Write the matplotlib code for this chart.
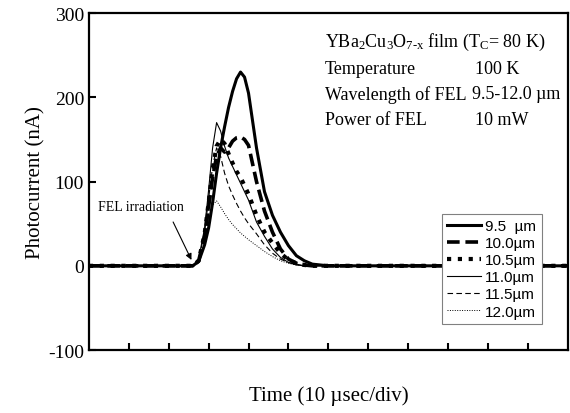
import numpy as np
import matplotlib
matplotlib.use("Agg")
import matplotlib.pyplot as plt

plt.rcParams['font.family'] = ['Liberation Serif', 'DejaVu Serif']
plt.rcParams['mathtext.fontset'] = 'custom'
plt.rcParams['mathtext.rm'] = 'Liberation Serif'
plt.rcParams['mathtext.it'] = 'Liberation Serif:italic'
plt.rcParams['axes.unicode_minus'] = False

# time in divisions (10 usec/div)
t = [0, 2.6, 2.75, 2.9, 3.0, 3.1, 3.2, 3.3, 3.4, 3.5, 3.6, 3.7, 3.8, 3.9,
     4.0, 4.2, 4.4, 4.6, 4.8, 5.0, 5.2, 5.4, 5.6, 6.0, 12]

# photocurrent (nA) for each FEL wavelength
i_95 = [0, 0, 5, 25, 45, 75, 110, 140, 165, 188, 207, 222, 230, 224,
        205, 140, 88, 60, 40, 24, 12, 6, 2, 0, 0]
i_100 = [0, 0, 6, 35, 70, 105, 130, 140, 135, 140, 148, 152, 153, 150,
         143, 100, 65, 40, 20, 8, 3, 1, 0, 0, 0]
i_105 = [0, 0, 6, 38, 75, 115, 142, 150, 145, 133, 122, 112, 105, 95,
         85, 60, 40, 27, 15, 7, 3, 1, 0, 0, 0]
i_110 = [0, 0, 8, 45, 90, 140, 170, 160, 142, 128, 118, 108, 98, 88,
         78, 52, 35, 20, 10, 4, 1, 0, 0, 0, 0]
i_115 = [0, 0, 7, 40, 80, 118, 140, 130, 110, 95, 84, 74, 65, 57,
         50, 38, 25, 15, 8, 4, 2, 0, 0, 0, 0]
i_120 = [0, 0, 5, 25, 48, 72, 77, 70, 62, 55, 49, 44, 39, 35,
         31, 24, 17, 11, 6, 3, 1, 0, 0, 0, 0]

labels = ['9.5  \u00b5m', '10.0\u00b5m', '10.5\u00b5m', '11.0\u00b5m', '11.5\u00b5m', '12.0\u00b5m']

fig = plt.figure(figsize=(5.7, 4.14), dpi=100)
ax = fig.add_axes([0.156, 0.152, 0.84, 0.814])

ax.plot(t, i_120, color='k', lw=0.7, ls=(0, (1, 1.5)), zorder=2, label=labels[5])
ax.plot(t, i_115, color='k', lw=0.8, ls=(0, (5, 3)), zorder=2, label=labels[4])
ax.plot(t, i_110, color='k', lw=0.8, ls='-', zorder=2, label=labels[3])
ax.plot(t, i_105, color='k', lw=3.0, ls=(0, (1, 1.6)), zorder=3, label=labels[2])
ax.plot(t, i_100, color='k', lw=2.6, ls=(0, (3.5, 1.6)), zorder=3, label=labels[1])
ax.plot(t, i_95, color='k', lw=2.2, ls='-', zorder=4, label=labels[0])

ax.set_xlim(0, 12)
ax.set_ylim(-100, 300)
ax.set_xticks(np.arange(1, 12))
ax.set_xticklabels([])
ax.set_yticks([-100, 0, 100, 200, 300])
ax.tick_params(direction='in', length=5, width=1.5, labelsize=14)
ax.tick_params(axis='x', top=False)
for s in ax.spines.values():
    s.set_linewidth(1.6)

ax.set_ylabel('Photocurrent (nA)', fontsize=15, labelpad=2)
ax.set_xlabel('Time (10 \u00b5sec/div)', fontsize=15, labelpad=22)

# header text
ax.text(0.493, 0.917, r'YBa$_2$Cu$_3$O$_{\mathrm{7\text{-}x}}$ film (T$_{\mathrm{C}}$= 80 K)',
        transform=ax.transAxes, fontsize=13, va='center')
ax.text(0.493, 0.837, 'Temperature', transform=ax.transAxes, fontsize=13, va='center')
ax.text(0.806, 0.837, '100 K', transform=ax.transAxes, fontsize=13, va='center')
ax.text(0.493, 0.760, 'Wavelength of FEL', transform=ax.transAxes, fontsize=13, va='center')
ax.text(0.800, 0.760, '9.5-12.0 \u00b5m', transform=ax.transAxes, fontsize=13, va='center')
ax.text(0.493, 0.685, 'Power of FEL', transform=ax.transAxes, fontsize=13, va='center')
ax.text(0.806, 0.685, '10 mW', transform=ax.transAxes, fontsize=13, va='center')

ax.text(1.3, 70, 'FEL irradiation', fontsize=10, ha='center', va='center')
ax.annotate('', xy=(2.6, 4), xytext=(2.08, 55),
            arrowprops=dict(arrowstyle='-|>', lw=0.8, color='k', mutation_scale=9))

h, l = ax.get_legend_handles_labels()
leg = ax.legend(h[::-1], l[::-1], loc='upper left', bbox_to_anchor=(0.737, 0.404),
                fancybox=False, framealpha=1, edgecolor='0.5',
                prop={'family': ['Liberation Sans Narrow', 'Liberation Sans'], 'size': 11},
                handlelength=2.2, handletextpad=0.3, labelspacing=0.2,
                borderpad=0.35, borderaxespad=0)
leg.get_frame().set_linewidth(0.8)

fig.savefig('out.png', dpi=100)
